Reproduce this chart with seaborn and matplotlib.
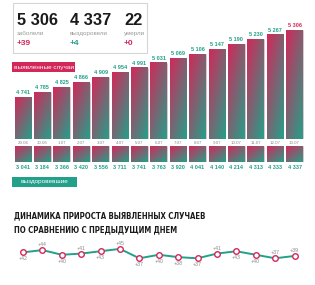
import numpy as np
import matplotlib
matplotlib.use("Agg")
import matplotlib.pyplot as plt
import matplotlib.colors as mcolors
from matplotlib.patches import Rectangle
from matplotlib import font_manager
from matplotlib.font_manager import FontProperties
import seaborn as sns

dates = ["29.06", "30.06", "1.07", "2.07", "3.07", "4.07", "5.07", "6.07",
         "7.07", "8.07", "9.07", "10.07", "11.07", "12.07", "13.07"]
cases = [4741, 4785, 4825, 4866, 4909, 4954, 4991, 5031,
         5069, 5106, 5147, 5190, 5230, 5267, 5306]
recovered = [3041, 3184, 3366, 3420, 3556, 3711, 3741, 3763,
             3920, 4041, 4140, 4214, 4313, 4333, 4337]
growth = [42, 44, 40, 41, 43, 45, 37, 40, 38, 37, 41, 43, 40, 37, 39]
growth_side = ["below", "above", "below", "above", "below", "above", "below", "below",
               "below", "below", "above", "below", "below", "above", "above"]

totals = ["5 306", "4 337", "22"]
total_names = ["заболели", "выздоровели", "умерли"]
total_deltas = ["+39", "+4", "+0"]
title_lines = ["ДИНАМИКА ПРИРОСТА ВЫЯВЛЕННЫХ СЛУЧАЕВ", "ПО СРАВНЕНИЮ С ПРЕДЫДУЩИМ ДНЕМ"]

CRIMSON = "#d2285a"
TEAL = "#23a08a"
GRAY = "#8a8a8a"

sns.set_style("white")
plt.rcParams["font.family"] = ["Liberation Sans", "DejaVu Sans"]


# look for a condensed / narrow bold face for the title
def is_narrow(f):
    s = (f.name + " " + f.fname).lower()
    st = f.stretch
    narrow_stretch = (isinstance(st, str) and "condensed" in st) or (isinstance(st, int) and st < 500)
    return "condensed" in s or "narrow" in s or narrow_stretch


def weight_num(w):
    if isinstance(w, int):
        return w
    return font_manager.weight_dict.get(w, 400)


cands = [f for f in font_manager.fontManager.ttflist if is_narrow(f) and "italic" not in f.style
         and "oblique" not in f.style and "italic" not in f.fname.lower()]
cands.sort(key=lambda f: abs(weight_num(f.weight) - 700))
title_font = cands[0].fname if cands else None

W, H = 315, 285
fig = plt.figure(figsize=(W / 100, H / 100), dpi=100)


def px_axes(left, top, right, bottom):
    return fig.add_axes([left / W, 1 - bottom / H, (right - left) / W, (bottom - top) / H])


def fmt(v):
    return f"{v:,}".replace(",", " ")


c0 = np.array(mcolors.to_rgb(CRIMSON))
c1 = np.array(mcolors.to_rgb(TEAL))
gi, gj = np.mgrid[0:60, 0:60] / 59.0
t = (0.55 * gi + 0.45 * gj)[..., None]
grad = c0 * (1 - t) + c1 * t


def gradient_bars(ax):
    xl, yl = ax.get_xlim(), ax.get_ylim()
    for p in ax.patches:
        x0, y0 = p.get_x(), max(p.get_y(), yl[0])
        x1, y1 = x0 + p.get_width(), p.get_y() + p.get_height()
        im = ax.imshow(grad, extent=[x0, x1, y0, y1], aspect="auto",
                       interpolation="bilinear", zorder=p.get_zorder() + 0.1)
        im.set_clip_path(p)
        im.set_clip_box(ax.bbox)
        p.set_edgecolor("#e6e6e6")
        p.set_linewidth(0.4)
    ax.set_xlim(xl)
    ax.set_ylim(yl)


# top: detected cases
ax1 = px_axes(13.3, 20, 304.2, 139)
sns.barplot(x=dates, y=cases, ax=ax1, color=CRIMSON, width=0.86, saturation=1)
ax1.set_xlim(-0.5, 14.5)
ax1.set_ylim(4390, 5393)
gradient_bars(ax1)
for i, v in enumerate(cases):
    ax1.annotate(fmt(v), (i, v), xytext=(0, 1.5), textcoords="offset points",
                 ha="center", va="bottom", fontsize=4, fontweight="bold",
                 color=CRIMSON if i == len(cases) - 1 else TEAL)
ax1.set_yticks([])
ax1.tick_params(axis="x", length=0, pad=1.5, labelsize=3.2, labelcolor=GRAY)
ax1.set_xlabel("")
ax1.set_ylabel("")
sns.despine(ax=ax1, left=True, bottom=True)

# recovered squares
ax2 = px_axes(13.3, 146, 304.2, 162)
sns.barplot(x=dates, y=[1] * len(dates), ax=ax2, color=CRIMSON, width=0.86, saturation=1)
ax2.set_xlim(-0.5, 14.5)
ax2.set_ylim(0, 1)
gradient_bars(ax2)
for i, v in enumerate(recovered):
    ax2.text(i, -0.18, fmt(v), ha="center", va="top", fontsize=4, fontweight="bold", color=TEAL)
ax2.axis("off")

# growth line
ax3 = px_axes(13.3, 243, 304.2, 263)
sns.lineplot(x=list(range(len(growth))), y=growth, ax=ax3, color=TEAL, linewidth=1.4,
             marker="o", markersize=4, markerfacecolor="white",
             markeredgecolor=CRIMSON, markeredgewidth=1)
for i, (v, side) in enumerate(zip(growth, growth_side)):
    dy = 4 if side == "above" else -4.5
    ax3.annotate(f"+{v}", (i, v), xytext=(0, dy), textcoords="offset points",
                 ha="center", va="center", fontsize=3.8, color=GRAY)
ax3.set_xlim(-0.5, 14.5)
ax3.set_ylim(33, 50)
ax3.axis("off")

# summary box
fig.add_artist(Rectangle((13 / W, 1 - 53 / H), 134 / W, 50 / H, transform=fig.transFigure,
                         facecolor="none", edgecolor="#d5d5d5", linewidth=0.8))
for k, x in enumerate([17, 70, 124]):
    fig.text(x / W, 1 - 25 / H, totals[k], fontsize=11.8, fontweight="bold", color="#1a1a1a",
             ha="left", va="baseline")
    fig.text(x / W, 1 - 35 / H, total_names[k], fontsize=4.5, color="#9a9a9a",
             ha="left", va="baseline")
    fig.text(x / W, 1 - 45 / H, total_deltas[k], fontsize=6, fontweight="bold",
             color=TEAL if k == 1 else CRIMSON, ha="left", va="baseline")

# series labels
fig.add_artist(Rectangle((12 / W, 1 - 72 / H), 63 / W, 10 / H, transform=fig.transFigure,
                         facecolor=CRIMSON, edgecolor="none"))
fig.text(43.5 / W, 1 - 67 / H, "выявленные случаи", fontsize=4.6, color="white",
         ha="center", va="center")
fig.add_artist(Rectangle((12 / W, 1 - 187 / H), 65 / W, 10 / H, transform=fig.transFigure,
                         facecolor=TEAL, edgecolor="none"))
fig.text(44.5 / W, 1 - 182 / H, "выздоровевшие", fontsize=4.6, color="white",
         ha="center", va="center")

# title: fit first line to ~193 px wide, never above 8 pt
if title_font:
    tprops = FontProperties(fname=title_font, size=8)
else:
    tprops = FontProperties(family="Liberation Sans", weight="bold", size=8)
titles = []
for k, line in enumerate(title_lines):
    titles.append(fig.text(14 / W, 1 - (218 + 14 * k) / H, line, fontproperties=tprops.copy(),
                           color="#1a1a1a", ha="left", va="baseline"))
fig.canvas.draw()
w1 = titles[0].get_window_extent().width
size = min(8.2, 8 * 193 / w1)
for txt in titles:
    txt.set_fontsize(size)

fig.savefig("out.png", dpi=100)
